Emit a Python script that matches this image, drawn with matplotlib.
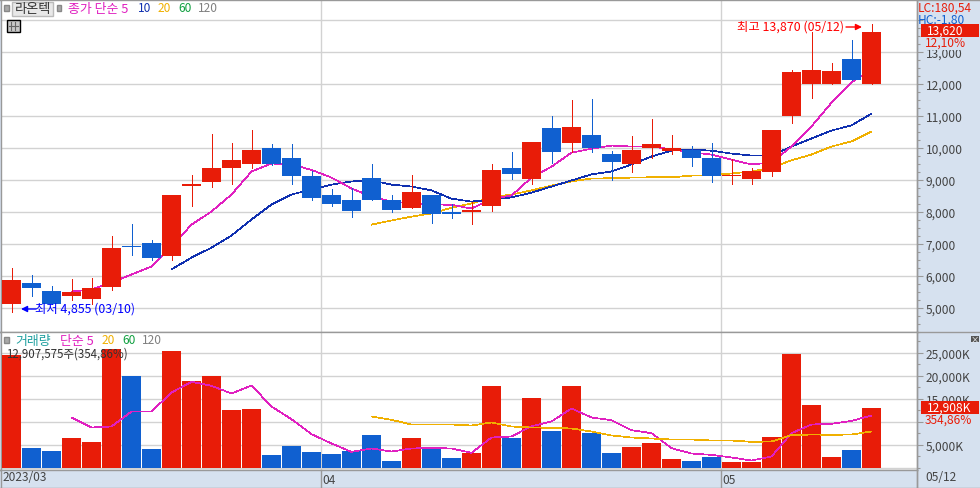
import matplotlib
matplotlib.use("Agg")
import matplotlib.pyplot as plt
from matplotlib.patches import Rectangle
from matplotlib.ticker import FuncFormatter

W, H = 980, 489
NUM_FONT = ['Liberation Sans Narrow', 'Noto Sans CJK KR', 'DejaVu Sans']
KOR_FONT = ['Noto Sans CJK KR', 'DejaVu Sans']
plt.rcParams['font.family'] = NUM_FONT

# daily candles, 2023/03 to 05/12
opens = [5125, 5781, 5531, 5344, 5281, 5656, 6930, 7031, 6594, 8810, 8937, 9344, 9469, 9969, 9687,
         9094, 8531, 8344, 9062, 8375, 8094, 8531, 8000, 7969, 8187, 9344, 9031, 10625, 10156, 10406,
         9812, 9500, 9969, 9906, 9937, 9687, 9094, 9031, 9219, 10969, 11969, 12000, 12781, 11970]
closes = [5875, 5594, 5125, 5469, 5594, 6844, 6880, 6562, 8531, 8875, 9344, 9594, 9937, 9500, 9094,
          8437, 8250, 8031, 8344, 8062, 8594, 7937, 7937, 8062, 9312, 9187, 10187, 9875, 10656, 9969,
          9562, 9937, 10094, 9969, 9687, 9094, 9156, 9281, 10562, 12375, 12437, 12406, 12125, 13620]
highs = [6219, 6031, 5687, 5906, 5937, 7250, 7625, 7125, 8531, 9156, 10437, 10156, 10562, 10094, 10094,
         9280, 8700, 8750, 9469, 8531, 9156, 8531, 8250, 8312, 9500, 9844, 10187, 10969, 11500, 11531,
         9906, 10344, 10906, 10406, 10062, 10156, 9656, 9344, 10562, 12437, 13594, 12656, 13375, 13870]
lows = [4855, 5344, 5125, 5219, 5094, 5562, 6656, 6469, 6500, 8187, 8781, 8875, 9344, 9450, 8844,
        8375, 8187, 7840, 8344, 8000, 8094, 7656, 7812, 7594, 8031, 9031, 8844, 9531, 9875, 9875,
        8969, 9250, 9687, 9812, 9437, 8937, 8844, 8875, 9125, 10781, 11562, 11969, 12125, 11970]

ma5_start = 3
ma5 = [5500, 5560, 5780, 6030, 6280, 6900, 7590, 8000, 8530, 9250, 9500, 9470, 9300, 9060, 8720,
       8470, 8310, 8250, 8220, 8210, 8090, 8400, 8500, 9060, 9400, 9840, 9960, 10060, 10030, 10030,
       9940, 9850, 9780, 9620, 9470, 9530, 10030, 10660, 11400, 12030, 12450]
ma10_start = 8
ma10 = [6190, 6560, 6870, 7250, 7750, 8220, 8530, 8690, 8840, 8940, 8970, 8840, 8780, 8660, 8400,
        8310, 8370, 8440, 8590, 8780, 8970, 9160, 9250, 9470, 9720, 9900, 9940, 9900, 9810, 9750,
        9750, 10030, 10280, 10530, 10690, 11060]
ma20_start = 18
ma20 = [7590, 7720, 7840, 7940, 8120, 8250, 8440, 8530, 8660, 8810, 8940, 9030, 9040, 9060, 9070,
        9070, 9120, 9130, 9190, 9250, 9370, 9600, 9780, 10030, 10190, 10500]

# volume in thousands
volume = [24420, 4200, 3550, 6380, 5500, 25700, 19850, 3990, 25290, 18770, 19850, 12460, 12680, 2680, 4640,
          3330, 2900, 3550, 7030, 1380, 6380, 4200, 2030, 3120, 17680, 6380, 15070, 7900, 17680, 7460,
          3120, 4420, 5290, 1810, 1380, 2250, 1160, 1160, 6590, 24640, 13550, 2250, 3770, 12908]
vol_ma5 = [10870, 8700, 8910, 12170, 12170, 16300, 18620, 17750, 16090, 17830, 13260, 10500, 7250, 5220, 3400,
           4130, 3480, 4130, 4280, 4130, 3190, 6520, 6740, 8980, 10000, 12830, 10870, 10290, 8120, 7460,
           4200, 3040, 2750, 2170, 1520, 2390, 7460, 9350, 9490, 10140, 11300]
vol_ma20 = [11090, 10360, 9350, 9350, 9350, 9130, 9780, 8910, 8700, 8620, 8480, 7830, 6960, 6520, 6300,
            6090, 6090, 5870, 5870, 5580, 5650, 7030, 7170, 7100, 7170, 7830]

price_ticks = [5000, 6000, 7000, 8000, 9000, 10000, 11000, 12000, 13000, 14000]
price_minor = [p + d for p in range(4000, 14000, 1000) for d in (250, 500, 750)]
vol_ticks = [5000, 10000, 15000, 20000, 25000]
vol_minor = [0, 2500, 7500, 12500, 17500, 22500, 27500]
# these two tick labels sit under the readouts in the reference
hidden_price = 14000
hidden_vol = 10000
month_pos = [15.475, 35.475]
month_labels = ['04', '05']

RED = '#E81C08'
BLUE = '#1060D0'
MAGENTA = '#E020C0'
NAVY = '#1030B0'
ORANGE = '#F0B000'
GREEN = '#10A040'
GRAY = '#808080'
TEAL = '#20A0A0'
GRID = '#D2D2D2'
EDGE = '#999999'
PANEL = '#D6E1EF'
DARK = '#444444'
LW = 0.5
NUM = 8.6


def make_axes(top, bottom):
    a = fig.add_axes([0.5 / W, 1 - bottom / H, 916 / W, (bottom - top) / H])
    for s in a.spines.values():
        s.set_color(EDGE)
        s.set_linewidth(1)
    return a


def put(x, y, s, color=DARK, size=NUM, family=NUM_FONT, **kw):
    return fig.text(x / W, 1 - y / H, s, color=color, fontsize=size, family=family,
                    ha=kw.pop('ha', 'left'), va='center', **kw)


def box(x0, y0, x1, y1, face, edge='none', zorder=5):
    fig.add_artist(Rectangle((x0 / W, 1 - y1 / H), (x1 - x0) / W, (y1 - y0) / H, transform=fig.transFigure,
                             facecolor=face, edgecolor=edge, linewidth=1, zorder=zorder))


fig = plt.figure(figsize=(W / 100, H / 100), dpi=100, facecolor=PANEL)
ax1 = make_axes(0.5, 332.5)
ax2 = make_axes(332.5, 470.5)
ax3 = make_axes(470.5, 488.5)
ax3.set_facecolor(PANEL)
ax3.set_xticks([])
ax3.set_yticks([])
ax3.set_xlim(-0.55, 45.25)

# price panel
x = list(range(len(closes)))
colors = [RED if c >= o else BLUE for o, c in zip(opens, closes)]
ax1.vlines(x, lows, highs, colors=colors, linewidth=LW + 0.2, antialiased=False, zorder=3)
ax1.bar(x, [c - o for o, c in zip(opens, closes)], bottom=opens, width=0.95, color=colors, zorder=4)
for start, vals, col in [(ma20_start, ma20, ORANGE), (ma10_start, ma10, NAVY), (ma5_start, ma5, MAGENTA)]:
    ax1.plot(range(start, start + len(vals)), vals, color=col, linewidth=LW, antialiased=False, zorder=2)

# volume panel
ax2.bar(x, volume, width=0.95, color=colors, zorder=3)
ax2.plot(range(ma5_start, ma5_start + len(vol_ma5)), vol_ma5, color=MAGENTA, linewidth=LW, antialiased=False, zorder=4)
ax2.plot(range(ma20_start, ma20_start + len(vol_ma20)), vol_ma20, color=ORANGE, linewidth=LW, antialiased=False, zorder=4)

comma = FuncFormatter(lambda v, _: '' if int(v) == hidden_price else f'{int(v):,}')
commak = FuncFormatter(lambda v, _: '' if int(v) == hidden_vol else f'{int(v):,}K')
for a, major, minor, fmt in [(ax1, price_ticks, price_minor, comma), (ax2, vol_ticks, vol_minor, commak)]:
    a.yaxis.tick_right()
    a.set_yticks(major)
    a.set_yticks(minor, minor=True)
    a.yaxis.set_major_formatter(fmt)
    a.tick_params(axis='y', which='major', length=4, width=0.8, color=EDGE, pad=2.5, labelsize=NUM, labelcolor=DARK)
    a.tick_params(axis='y', which='minor', length=2.5, width=0.8, color=EDGE)
    a.set_xticks(month_pos)
    a.set_xticklabels([])
    a.tick_params(axis='x', length=0)
    a.grid(True, color=GRID, linewidth=1, zorder=0)
    a.set_axisbelow(True)
    a.set_xlim(-0.55, 45.25)
ax1.set_ylim(12000 - (332.5 - 84.5) / 0.032, 12000 + 84 / 0.032)
ax2.set_ylim(-(470.5 - 468.5) / 0.0046, (468.5 - 332.5) / 0.0046)
ax2.axhline(0, color=GRID, linewidth=1, zorder=1)

# date strip
for pos, lab in zip(month_pos, month_labels):
    ax3.axvline(pos, color=EDGE, linewidth=1)
    ax3.text(pos + 0.08, 0.47, lab, color=DARK, fontsize=NUM, va='center', transform=ax3.get_xaxis_transform())
put(3, 478, '2023/03')
put(925, 478, '05/12')
fig.add_artist(plt.Line2D([916.5 / W, 916.5 / W], [1 - 489 / H, 1], color=EDGE, linewidth=1, zorder=1))
fig.add_artist(plt.Line2D([916.5 / W, 1], [1 - 488.5 / H, 1 - 488.5 / H], color=EDGE, linewidth=1, zorder=1))
fig.add_artist(plt.Line2D([916.5 / W, 1], [1 - 0.5 / H, 1 - 0.5 / H], color=EDGE, linewidth=1, zorder=1))
fig.add_artist(plt.Line2D([916.5 / W, 1], [1 - 332.5 / H, 1 - 332.5 / H], color=EDGE, linewidth=1, zorder=1))

# price legend row
box(4, 6, 8.5, 11.5, '#A8A8A8', '#888888')
box(11.5, 3, 52.5, 16.5, '#E8E8E8', '#BBBBBB')
put(15, 9.5, '라온텍', '#333333', 9.5, KOR_FONT, zorder=6)
box(56.5, 6, 60.5, 11.5, '#A8A8A8', '#888888')
put(68, 9, '종가 단순 5', MAGENTA, 9.3, KOR_FONT)
put(138, 9, '10', NAVY)
put(158, 9, '20', ORANGE)
put(178, 9, '60', GREEN)
put(198, 9, '120', GRAY)
box(6.5, 20.5, 19.5, 33, '#C8C8C8', 'black')
fig.add_artist(plt.Line2D([8.5 / W, 17.5 / W], [1 - 27 / H, 1 - 27 / H], color='#666666', linewidth=0.8, zorder=6))
for gx in (11, 14.5):
    fig.add_artist(plt.Line2D([gx / W, gx / W], [1 - 22.5 / H, 1 - 31 / H], color='#666666', linewidth=0.8, zorder=6))

# high and low notes
hi_lab = f'최고 {max(highs):,} (05/12)'
lo_lab = f'최저 {min(lows):,} (03/10)'
put(737, 27.5, hi_lab, '#FF0000', 8.9, NUM_FONT)
put(35, 309.5, lo_lab, '#0000FF', 8.9, NUM_FONT)
ax1.annotate('', xy=(862 / W, 1 - 28 / H), xytext=(846 / W, 1 - 28 / H), xycoords='figure fraction',
             textcoords='figure fraction', arrowprops=dict(arrowstyle='-|>', color='#FF0000', lw=1, shrinkA=0, shrinkB=0, mutation_scale=9))
ax1.annotate('', xy=(21 / W, 1 - 310 / H), xytext=(36 / W, 1 - 310 / H), xycoords='figure fraction',
             textcoords='figure fraction', arrowprops=dict(arrowstyle='-|>', color='#0000FF', lw=1, shrinkA=0, shrinkB=0, mutation_scale=9))

# right panel readouts
pad = dict(facecolor=PANEL, edgecolor='none', pad=0.5)
put(917.5, 8, 'LC:180,54', RED, zorder=6)
put(917.5, 20, 'HC:-1,80', BLUE, zorder=6)
put(925, 43.5, '12,10%', RED, zorder=6, bbox=pad)
box(921, 25, 979, 38, RED, zorder=7)
put(927, 31.5, '13,620', 'white', zorder=8)
put(925, 420, '354,86%', RED, zorder=6, bbox=pad)
box(921, 402, 979, 415, RED, zorder=7)
put(927, 408.5, '12,908K', 'white', zorder=8)
box(971, 336.5, 979, 343, '#555555')
put(975, 339.5, '×', 'white', 6, ha='center', zorder=6)

# volume legend row
box(4, 338, 8.5, 344, '#A8A8A8', '#888888')
put(15, 341, '거래량', TEAL, 9.3, KOR_FONT)
put(60, 341, '단순 5', MAGENTA, 9.3, KOR_FONT)
put(102, 341, '20', ORANGE)
put(122, 341, '60', GREEN)
put(142, 341, '120', GRAY)
put(6, 354, '12,907,575주(354,86%)', '#333333', 8.3, NUM_FONT, zorder=6)

fig.savefig('out.png', dpi=100, facecolor=fig.get_facecolor())
